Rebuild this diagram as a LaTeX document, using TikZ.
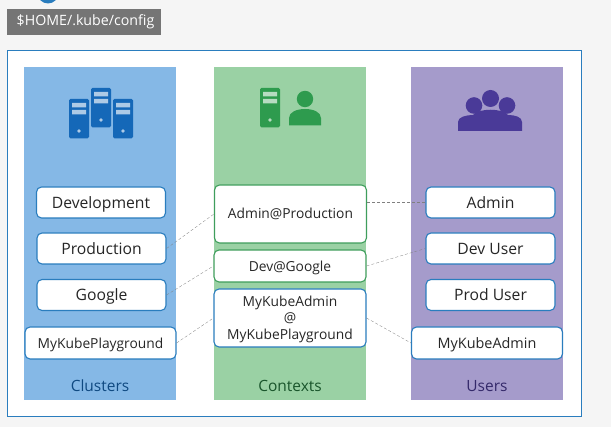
\documentclass[tikz,border=0pt]{standalone}
\usepackage{fontspec}
\setmainfont{Open Sans}
\usepackage{tikz}
\usetikzlibrary{positioning}
\definecolor{clusterblue}{HTML}{85B8E6}
\definecolor{contextgreen}{HTML}{9AD1A4}
\definecolor{userpurple}{HTML}{A59BCB}
\definecolor{iconblue}{HTML}{1568B8}
\definecolor{icongreen}{HTML}{2E9B4E}
\definecolor{iconpurple}{HTML}{4A3A98}
\definecolor{edgeblue}{HTML}{2A7DBE}
\definecolor{edgegreen}{HTML}{3F9E5C}

\begin{document}
\begin{tikzpicture}[x=1pt,y=-1pt]
  \tikzset{
    panel/.style={anchor=north west,minimum width=152pt,minimum height=333pt,inner sep=0pt},
    rounded/.style={draw=edgeblue,line width=1.1pt,fill=white,rectangle,rounded corners=5pt,
      inner sep=0pt,align=center,font=\fontsize{15.7}{17}\selectfont,text=black!85},
    short/.style={rounded,minimum width=129pt,minimum height=31pt,text height=12.5pt,text depth=0.5pt},
    long/.style={rounded,minimum width=151pt,minimum height=32pt,text height=12pt,text depth=0.5pt,
      font=\fontsize{13.8}{16}\selectfont},
    ctx/.style={rounded,minimum width=152pt,font=\fontsize{13.8}{16.5}\selectfont},
    link/.style={densely dashed,line width=0.3pt,gray},
    caption/.style={font=\fontsize{15.5}{17}\selectfont},
    server/.pic={
      \fill[pic actions,rounded corners=1.5pt] (0,0) rectangle (20,39.5);
      \fill[white,opacity=0.65] (3,4) rectangle (17,8.5) (3,11) rectangle (17,15.5);
      \fill[white,opacity=0.65] (10,32) circle (1.8);
    }
  }
  \useasboundingbox (0,0) rectangle (611,427);
  \fill[black!4] (0,0) rectangle (611,427);
  \fill[edgeblue] (48,-7) circle (10.5);

  \node[fill=black!54,minimum width=154pt,minimum height=26pt,inner sep=0pt,text=white,
    font=\fontsize{14.2}{17}\selectfont] (cfg) at (84,22) {\hspace{3pt}\$HOME/.kube/config};
  \node[draw=edgeblue,line width=1pt,fill=white,anchor=north west,minimum width=574pt,
    minimum height=366pt,inner sep=0pt] (frame) at (7,50) {};

  % columns
  \node[panel,fill=clusterblue] (clusters) at (24,67) {};
  \node[panel,fill=contextgreen] (contexts) at (214,67) {};
  \node[panel,fill=userpurple] (users) at (411,67) {};
  \node[caption,text=iconblue!70!black] (clusterlbl) at (100,386) {Clusters};
  \node[caption,text=icongreen!55!black] (contextlbl) at (290,386) {Contexts};
  \node[caption,text=iconpurple!70!black] (userlbl) at (487,386) {Users};

  % icons
  \pic[fill=iconblue] at (69,99) {server};
  \pic[fill=iconblue] at (91,88) {server};
  \pic[fill=iconblue] at (113,99) {server};
  \pic[fill=icongreen] at (260,88) {server};
  \fill[icongreen] (305,99) circle (8.2);
  \fill[icongreen] (289,125.5) -- (289,118) .. controls (289,112) and (297,109) .. (305,109)
    .. controls (313,109) and (321,112) .. (321,118) -- (321,125.5) -- cycle;
  \fill[iconpurple] (474,105.5) circle (8.3) (507,105.5) circle (8.3) (490.5,98.5) circle (8.5);
  \fill[iconpurple] (458,131) -- (458,122) .. controls (458,117) and (466,115) .. (473,115)
    .. controls (478,108) and (503,108) .. (508,115)
    .. controls (515,115) and (522,117) .. (522,122) -- (522,131) -- cycle;

  % clusters
  \node[short] (dev) at (101,202.5) {Development};
  \node[short] (prod) at (101.5,248.5) {Production};
  \node[short] (google) at (101.5,295) {Google};
  \node[long] (play) at (100.5,343) {MyKubePlayground};

  % contexts
  \node[ctx,draw=edgegreen,minimum height=58pt] (adminctx) at (290.5,214) {Admin@Production};
  \node[ctx,draw=edgegreen,minimum height=32pt,text height=12pt,text depth=0.5pt] (devctx) at (290,266) {Dev@Google};
  \node[ctx,minimum height=58pt] (playctx) at (290,318) {\rule{0pt}{12.6pt}MyKubeAdmin\\@\\MyKubePlayground};

  % users
  \node[short] (admin) at (490.5,202.5) {Admin};
  \node[short] (devuser) at (490.5,248.5) {Dev User};
  \node[short] (produser) at (490.5,295) {Prod User};
  \node[long,font=\fontsize{14.4}{16}\selectfont] (kubeadmin) at (487,343) {MyKubeAdmin};

  \draw[link] (prod.east) -- (adminctx.west);
  \draw[link] (google.east) -- (devctx.west);
  \draw[link] (play.east) -- (playctx.west);
  \draw[link] (adminctx.east |- admin.west) -- (admin.west);
  \draw[link] (devctx.east) -- (devuser.west);
  \draw[link] (playctx.east) -- (kubeadmin.west);
\end{tikzpicture}
\end{document}
